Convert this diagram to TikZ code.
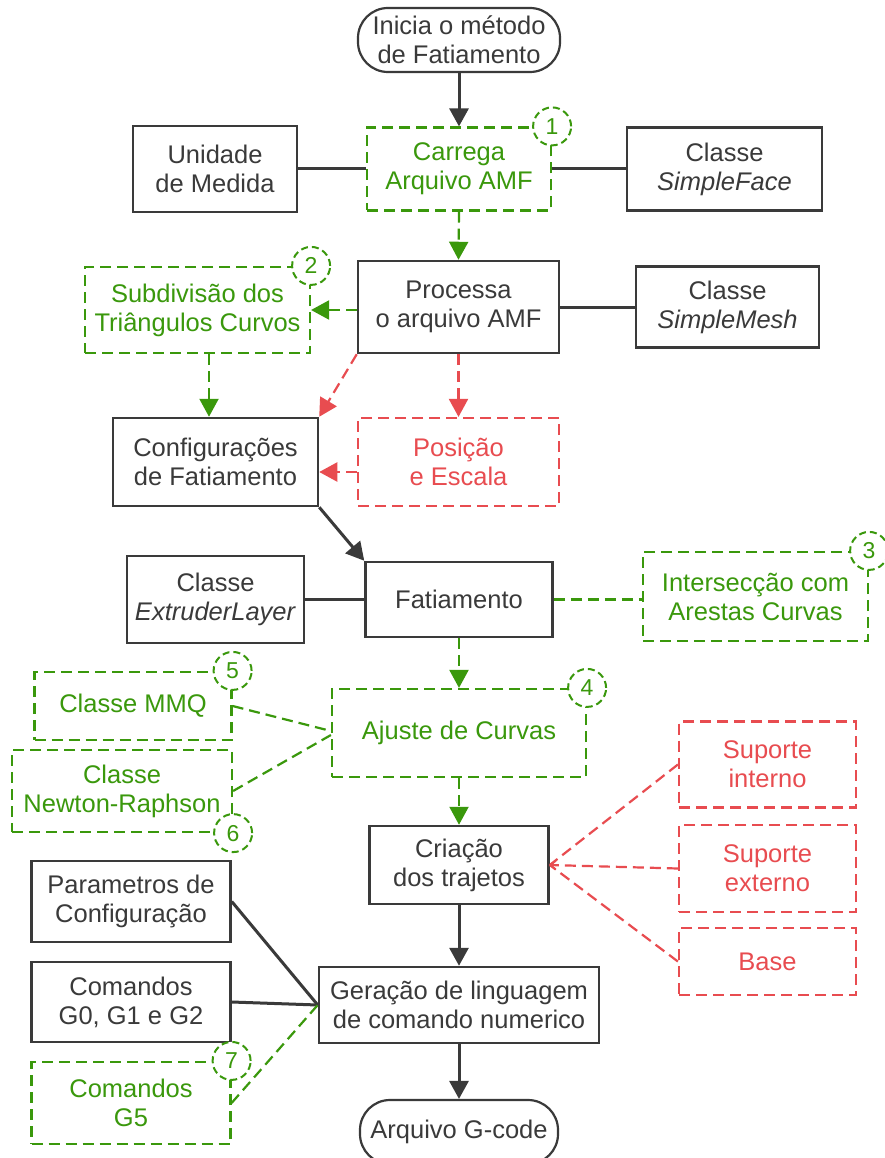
\documentclass[tikz,border=0pt]{standalone}
\usepackage{fontspec}
\setmainfont{Liberation Sans}
\usetikzlibrary{arrows.meta,calc}
\definecolor{dk}{RGB}{58,58,58}
\definecolor{gr}{RGB}{58,152,12}
\definecolor{rd}{RGB}{232,76,80}
\tikzset{
  base/.style={rectangle,inner sep=0pt,align=center,font=\fontsize{25.5}{29}\selectfont},
  sbox/.style={base,draw=dk,line width=2.5pt,text=dk},
  gbox/.style={base,draw=gr,line width=2.2pt,text=gr,dash pattern=on 11pt off 6pt},
  rbox/.style={base,draw=rd,line width=2.2pt,text=rd,dash pattern=on 11pt off 6pt},
  term/.style={sbox,line width=2.2pt,rounded corners=30pt},
  circ/.style={circle,draw=gr,fill=white,line width=2pt,dash pattern=on 7pt off 4pt,
    minimum size=38pt,inner sep=0pt,text=gr,font=\fontsize{23}{25}\selectfont},
  dline/.style={draw=dk,line width=3pt},
  darr/.style={dline,-{Triangle[width=19pt,length=18pt]}},
  gline/.style={draw=gr,line width=2.2pt,dash pattern=on 11pt off 6pt},
  garr/.style={gline,-{Triangle[width=19pt,length=18pt]}},
  rline/.style={draw=rd,line width=2.2pt,dash pattern=on 11pt off 6pt},
  rarr/.style={rline,-{Triangle[width=19pt,length=18pt]}},
}
\begin{document}
\begin{tikzpicture}[x=1pt,y=-1pt]
\useasboundingbox (0,0) rectangle (885,1158);
\fill[white] (0,0) rectangle (885,1158);
% nodes
\node[term,minimum width=202pt,minimum height=64pt] (start) at (459,40) {Inicia o método\\de Fatiamento};
\node[sbox,minimum width=164pt,minimum height=86pt] (unid) at (215,169) {Unidade\\de Medida};
\node[gbox,minimum width=184pt,minimum height=83pt] (carrega) at (459,169) {Carrega\\Arquivo AMF};
\node[sbox,minimum width=195pt,minimum height=83pt] (sface) at (724.5,169) {Classe\\\textit{SimpleFace}};
\node[gbox,minimum width=225pt,minimum height=86pt] (sub) at (197.5,310) {Subdivisão dos\\Triângulos Curvos};
\node[sbox,minimum width=201pt,minimum height=92pt] (proc) at (458.5,307) {Processa\\o arquivo AMF};
\node[sbox,minimum width=183pt,minimum height=81pt] (smesh) at (727.5,307) {Classe\\\textit{SimpleMesh}};
\node[sbox,minimum width=205pt,minimum height=88pt] (conf) at (215.5,462) {Configurações\\de Fatiamento};
\node[rbox,minimum width=201pt,minimum height=88pt] (pos) at (458.5,462) {Posição\\e Escala};
\node[sbox,minimum width=187pt,minimum height=75pt] (fat) at (459,599.5) {Fatiamento};
\node[sbox,minimum width=177pt,minimum height=87pt] (ext) at (215.5,599.5) {Classe\\\textit{ExtruderLayer}};
\node[gbox,minimum width=225pt,minimum height=89pt] (inter) at (755.5,596.5) {Intersecção com\\Arestas Curvas};
\node[gbox,minimum width=254pt,minimum height=88pt] (ajuste) at (459,733) {Ajuste de Curvas};
\node[gbox,minimum width=197pt,minimum height=68pt] (mmq) at (133,706) {Classe MMQ};
\node[gbox,minimum width=220pt,minimum height=82pt] (newton) at (122,791) {Classe\\Newton-Raphson};
\node[sbox,minimum width=179pt,minimum height=78pt] (cria) at (459,865) {Criação\\dos trajetos};
\node[rbox,minimum width=177pt,minimum height=86pt] (supi) at (767.5,764.5) {Suporte\\interno};
\node[rbox,minimum width=177pt,minimum height=87pt] (supe) at (767.5,868.5) {Suporte\\externo};
\node[rbox,minimum width=177pt,minimum height=67pt] (basen) at (767.5,961.5) {Base};
\node[sbox,minimum width=199pt,minimum height=81pt] (param) at (131,901.5) {Parametros de\\Configuração};
\node[sbox,minimum width=199pt,minimum height=80pt] (g0) at (131,1002) {Comandos\\G0, G1 e G2};
\node[gbox,minimum width=199pt,minimum height=82pt] (g5) at (131,1103) {Comandos\\G5};
\node[sbox,minimum width=280pt,minimum height=76pt] (ger) at (459,1005) {Geração de linguagem\\de comando numerico};
\node[term,minimum width=198pt,minimum height=64pt] (fim) at (459,1132) {Arquivo G-code};
% helper coordinates
\coordinate (xa) at (209,0);
\coordinate (ya) at (0,472);
% connectors
\draw[darr] (start.south) -- (carrega.north);
\draw[dline] (unid.east) -- (carrega.west);
\draw[dline] (carrega.east) -- (sface.west);
\draw[garr] (carrega.south) -- (proc.north);
\draw[dline] (proc.east) -- (smesh.west);
\draw[garr] (proc.west |- sub.east) -- (sub.east);
\draw[garr] (sub.south -| xa) -- (conf.north -| xa);
\draw[rarr] (proc.south west) -- (conf.north east);
\draw[rarr] (proc.south) -- (pos.north);
\draw[rarr] (pos.west |- ya) -- (conf.east |- ya);
\draw[darr] (conf.south east) -- (fat.north west);
\draw[dline] (ext.east) -- (fat.west);
\draw[gline] (fat.east) -- (inter.west |- fat.east);
\draw[garr] (fat.south) -- (ajuste.north);
\draw[gline] (mmq.east) -- ([yshift=2pt]ajuste.west);
\draw[gline] (newton.east) -- ([yshift=-2pt]ajuste.west);
\draw[garr] (ajuste.south) -- (cria.north);
\draw[rline] (supi.west) -- (cria.east);
\draw[rline,-{Straight Barb[length=5pt,width=9pt,line width=1.5pt]}] (supe.west) -- (cria.east);
\draw[rline] (basen.west) -- (cria.east);
\draw[darr] (cria.south) -- (ger.north);
\draw[darr] (ger.south) -- (fim.north);
\draw[dline] (param.east) -- (ger.west);
\draw[dline] (g0.east) -- (ger.west);
\draw[gline] (g5.east) -- (ger.west);
% numbered circles
\node[circ] (n1) at (carrega.north east) {1};
\node[circ] (n2) at (sub.north east) {2};
\node[circ] (n3) at (inter.north east) {3};
\node[circ] (n4) at (ajuste.north east) {4};
\node[circ] (n5) at (mmq.north east) {5};
\node[circ] (n6) at (newton.south east) {6};
\node[circ] (n7) at (g5.north east) {7};
\end{tikzpicture}
\end{document}
